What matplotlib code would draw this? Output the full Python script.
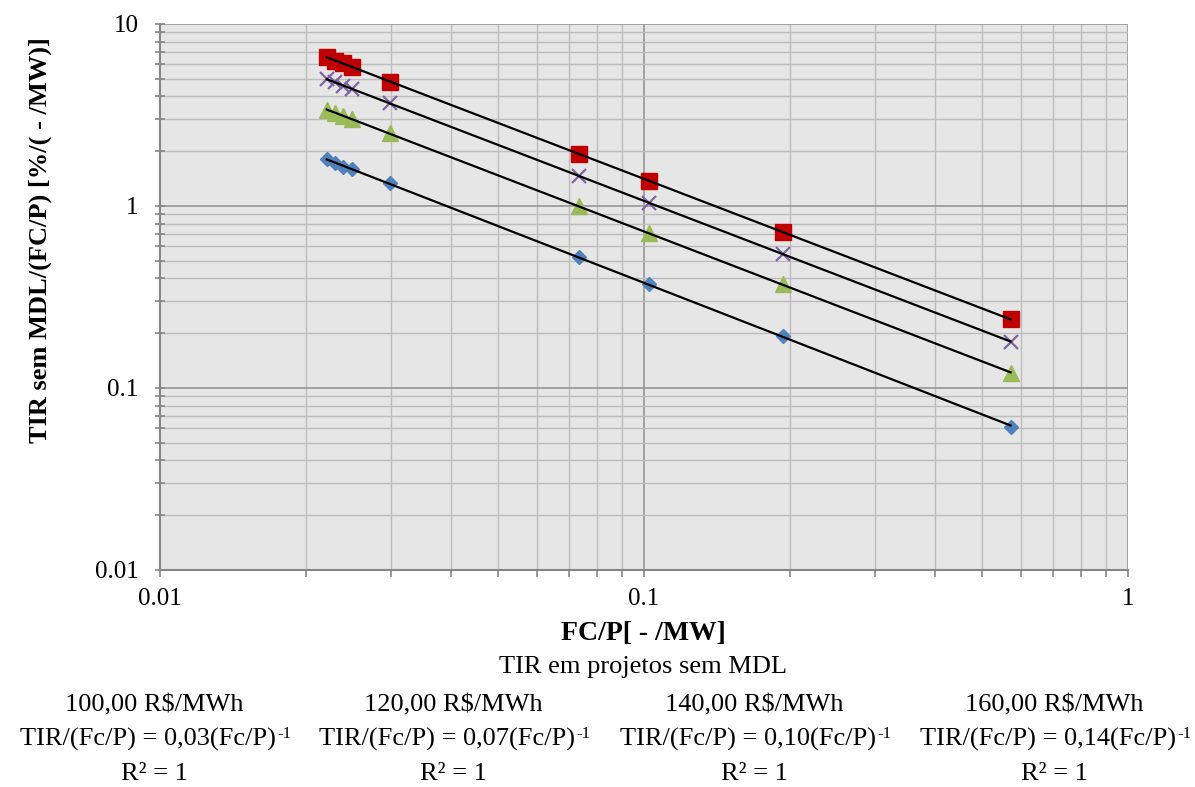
import numpy as np
import matplotlib
matplotlib.use("Agg")
import matplotlib.pyplot as plt
from matplotlib.ticker import FixedLocator, FixedFormatter, NullFormatter

plt.rcParams["font.family"] = ["Liberation Serif", "DejaVu Serif"]

# FC/P values shared by all series
fcp = [0.0221, 0.0230, 0.0239, 0.0249, 0.0298, 0.0735, 0.1026, 0.1935, 0.572]

# TIR/(FC/P) for each energy price
tir_100 = [1.806, 1.717, 1.644, 1.591, 1.333, 0.5225, 0.373, 0.193, 0.0613]
tir_120 = [3.37, 3.23, 3.12, 3.01, 2.51, 1.00, 0.708, 0.373, 0.1205]
tir_140 = [4.97, 4.78, 4.58, 4.39, 3.69, 1.46, 1.04, 0.545, 0.1797]
tir_160 = [6.56, 6.29, 6.11, 5.83, 4.82, 1.92, 1.372, 0.720, 0.2385]

prices = ["100,00 R$/MWh", "120,00 R$/MWh", "140,00 R$/MWh", "160,00 R$/MWh"]
coefs = ["0,03", "0,07", "0,10", "0,14"]
r2_labels = ["R\u00b2 = 1"] * 4

series = [
    (tir_100, "D", "#4F81BD", 7.5),
    (tir_120, "^", "#9BBB59", 11),
    (tir_140, "x", "#8064A2", 10),
    (tir_160, "s", "#C00000", 11),
]

fig = plt.figure(figsize=(11.95, 7.87), dpi=100)
W, H = 1195, 787
ax = fig.add_axes([160 / W, 1 - 570 / H, (1128 - 160) / W, (570 - 24) / H])
ax.set_facecolor("#E6E6E6")
ax.set_xscale("log")
ax.set_yscale("log")
ax.set_xlim(0.01, 1)
ax.set_ylim(0.01, 10)

minors = [m * 10.0 ** e for e in (-2, -1, 0) for m in range(2, 10)]
ax.xaxis.set_minor_locator(FixedLocator([v for v in minors if 0.01 < v < 1]))
ax.yaxis.set_minor_locator(FixedLocator([v for v in minors if 0.01 < v < 10]))
ax.xaxis.set_minor_formatter(NullFormatter())
ax.yaxis.set_minor_formatter(NullFormatter())
ax.xaxis.set_major_locator(FixedLocator([0.01, 0.1, 1]))
ax.xaxis.set_major_formatter(FixedFormatter(["0.01", "0.1", "1"]))
ax.yaxis.set_major_locator(FixedLocator([0.01, 0.1, 1, 10]))
ax.yaxis.set_major_formatter(FixedFormatter(["0.01", "0.1", "1", "10"]))

ax.grid(True, which="minor", color="#BDBDBD", linewidth=1.0)
ax.grid(True, which="major", color="#969696", linewidth=1.2)
ax.set_axisbelow(True)

for s in ("top", "right"):
    ax.spines[s].set_visible(False)
for s in ("left", "bottom"):
    ax.spines[s].set_color("#868686")
    ax.spines[s].set_linewidth(1.5)

ax.tick_params(axis="y", which="both", direction="inout", length=7, width=1.2,
               color="#868686", labelsize=18, pad=12)
ax.tick_params(axis="x", which="both", direction="out", length=5, width=1.2,
               color="#868686", labelsize=18, pad=8)

x = np.array(fcp)
for vals, mk, col, ms in series:
    y = np.array(vals)
    if mk == "x":
        ax.plot(x, y, linestyle="none", marker=mk, markersize=ms, color=col,
                markeredgewidth=1.6, zorder=3)
    else:
        ax.plot(x, y, linestyle="none", marker=mk, markersize=ms, color=col,
                markeredgecolor=col, zorder=3)

# power-law trend lines fitted in log-log space
for vals, mk, col, ms in series:
    y = np.array(vals)
    k, b = np.polyfit(np.log10(x), np.log10(y), 1)
    xs = np.array([x.min(), x.max()])
    ax.plot(xs, 10 ** (b + k * np.log10(xs)), color="black", linewidth=1.6, zorder=4)

fig.text(40 / W, 1 - 240 / H, "TIR sem MDL/(FC/P) [%/( - /MW)]", rotation=90,
         ha="center", va="center", fontsize=19, fontweight="bold")
fig.text(643 / W, 1 - 633 / H, "FC/P[ - /MW]", ha="center", va="center",
         fontsize=20, fontweight="bold")
fig.text(643 / W, 1 - 667 / H, "TIR em projetos sem MDL", ha="center", va="center",
         fontsize=19)

renderer = fig.canvas.get_renderer()
col_x = [154, 453, 754, 1054]
base_px = H - 746  # baseline of the equation row, pixels from the bottom
for cx, price, c, r2 in zip(col_x, prices, coefs, r2_labels):
    fig.text(cx / W, 1 - 705 / H, price, ha="center", va="center", fontsize=19)
    eq = fig.text((cx - 6) / W, base_px / H, "TIR/(Fc/P) = " + c + "(Fc/P)",
                  ha="center", va="baseline", fontsize=19)
    bb = eq.get_window_extent(renderer)
    # exponent set as a small raised "-1" after the closing parenthesis
    fig.text((bb.x1 + 1) / W, (base_px + 8) / H, "-1", ha="left",
             va="baseline", fontsize=12)
    fig.text(cx / W, 1 - 774 / H, r2, ha="center", va="center", fontsize=19)

fig.savefig("out.png", dpi=100)
